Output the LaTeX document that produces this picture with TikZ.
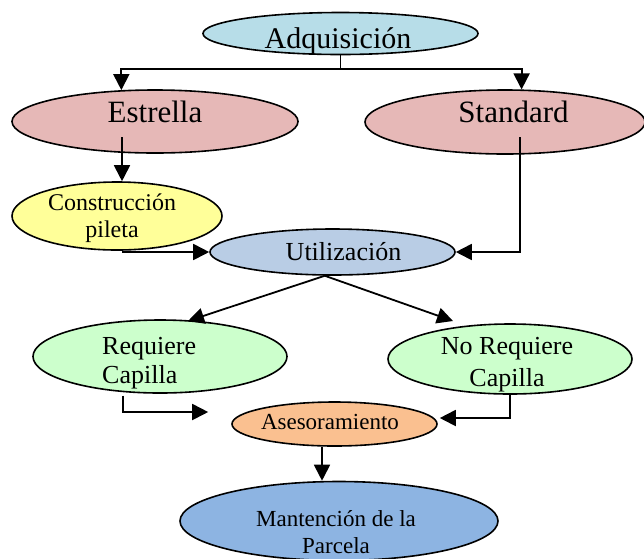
\documentclass[tikz,border=0pt]{standalone}
\usepackage{fontspec}
\setmainfont{Liberation Serif}
\usetikzlibrary{shapes.geometric,arrows.meta,calc}

\definecolor{adqblue}{RGB}{183,221,232}
\definecolor{rosa}{RGB}{230,184,183}
\definecolor{amarillo}{RGB}{255,255,153}
\definecolor{usoblue}{RGB}{185,205,229}
\definecolor{verde}{RGB}{204,255,204}
\definecolor{naranja}{RGB}{250,192,144}
\definecolor{mantblue}{RGB}{141,180,226}

\begin{document}
\begin{tikzpicture}[x=1pt, y=-1pt,
    blob/.style={ellipse, draw, line width=1.6pt, inner sep=0pt},
    lbl/.style={anchor=base, inner sep=0pt},
    arr/.style={line width=1.8pt, -{Triangle[length=16pt,width=16pt]}}]
  \useasboundingbox (0,0) rectangle (644,558);

  \node[blob, fill=adqblue, minimum width=275pt, minimum height=42pt] (adq) at (340.5,33.5) {};
  \node[blob, fill=rosa, minimum width=286pt, minimum height=63pt] (estrella) at (155,121.5) {};
  \node[blob, fill=rosa, minimum width=280pt, minimum height=64pt] (standard) at (505,122) {};
  \node[blob, fill=amarillo, minimum width=210pt, minimum height=68pt] (constr) at (117,216) {};
  \node[blob, fill=usoblue, minimum width=245pt, minimum height=46pt] (util) at (332.5,252) {};
  \node[blob, fill=verde, minimum width=254pt, minimum height=73pt] (req) at (160,356.5) {};
  \node[blob, fill=verde, minimum width=244pt, minimum height=70pt] (noreq) at (510,359) {};
  \node[blob, fill=naranja, minimum width=205pt, minimum height=44pt] (ases) at (334.5,424) {};
  \node[blob, fill=mantblue, minimum width=318pt, minimum height=79pt] (mant) at (339,521) {};

  % labels, anchored at the baseline of the last line
  \node[lbl, font=\fontsize{30}{33}\selectfont] (adqT) at (338,48) {Adquisición};
  \node[lbl, font=\fontsize{31}{34}\selectfont] (estrellaT) at (155,122) {Estrella};
  \node[lbl, font=\fontsize{31}{34}\selectfont] (standardT) at (513.5,122) {Standard};
  \node[lbl, font=\fontsize{24}{27}\selectfont, align=center] (constrT) at (112,237) {Construcción\\pileta};
  \node[lbl, font=\fontsize{26}{29}\selectfont] (utilT) at (343.5,260) {Utilización};
  \node[lbl, anchor=base west, font=\fontsize{26}{29}\selectfont, align=left] (reqT) at (102,383) {Requiere\\Capilla};
  \node[lbl, font=\fontsize{26}{32}\selectfont, align=center] (noreqT) at (507,386) {No Requiere\\Capilla};
  \node[lbl, font=\fontsize{23}{26}\selectfont] (asesT) at (330,429) {Asesoramiento};
  \node[lbl, font=\fontsize{23}{27}\selectfont, align=center] (mantT) at (336,553) {Mantención de la\\Parcela};

  \draw[line width=1.8pt] (adq.south) -- ++(0,13.5) coordinate (split);
  \draw[arr] (split) -| (estrella.137);
  \draw[arr] (split) -| (standard.63);
  \draw[arr] ($(estrella.center)+(-33,15.5)$) coordinate (e1) -- (e1 |- constr.north);
  \draw[arr] ($(standard.center)+(15,15)$) |- (util.east);
  \draw[arr] ($(constr.center)+(5,36)$) -- (util.west);
  \draw[arr] (util.252) -- ($(req.center)+(28,-35.5)$);
  \draw[arr] (util.252) -- ($(noreq.center)+(-57,-38)$);
  \draw[arr] ($(req.center)+(-37,39)$) |- ($(ases.west)+(-23,-12)$);
  \draw[arr] (noreq.south) |- ($(ases.east)+(2,-6)$);
  \draw[arr] ($(ases.south)+(-12.5,0)$) coordinate (a1) -- (a1 |- mant.north);
\end{tikzpicture}
\end{document}
